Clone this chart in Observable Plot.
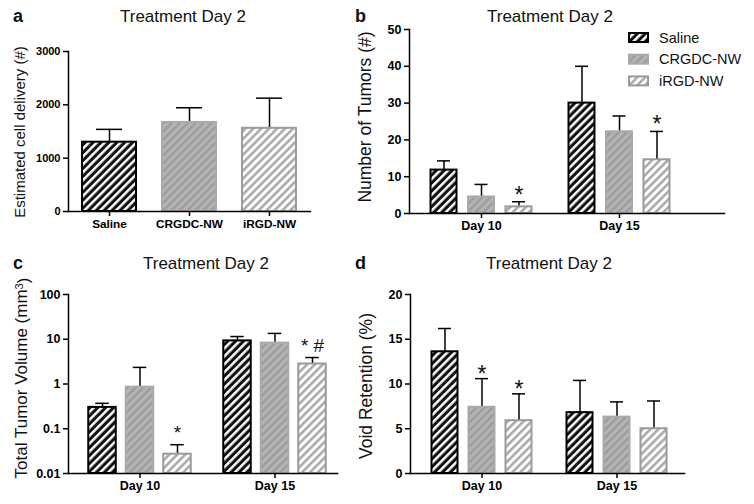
<!DOCTYPE html>
<html>
<head>
<meta charset="utf-8">
<script src="https://cdn.jsdelivr.net/npm/d3@7"></script>
<script src="https://cdn.jsdelivr.net/npm/@observablehq/plot@0.6"></script>
<style>
  html, body { margin: 0; padding: 0; background: #fff; }
  #chart { position: relative; width: 754px; height: 504px; overflow: hidden; background: #fff;
    font-family: "Liberation Sans", Arial, Helvetica, sans-serif; }
  #chart svg { position: absolute; }
</style>
</head>
<body>
<div id="chart"></div>
<script>
// ---------- data ----------
const series = ["Saline", "CRGDC-NW", "iRGD-NW"];
const days = ["Day 10", "Day 15"];

// panel a: estimated cell delivery (#)
const deliveryMean = [1300, 1670, 1560];
const deliveryErr  = [1540, 1945, 2125];

// panel b: number of tumors (#), order: Day 10 (Saline, CRGDC, iRGD), Day 15 (...)
const tumorsMean = [11.8, 4.5, 1.8, 30.0, 22.2, 14.6];
const tumorsErr  = [14.3, 7.9, 3.2, 40.0, 26.5, 22.3];
const tumorsSig  = ["", "", "*", "", "", "*"];

// panel c: total tumor volume (mm3), log scale
const volumeMean = [0.30, 0.85, 0.027, 9.2, 8.2, 2.8];
const volumeErr  = [0.37, 2.35, 0.044, 11.5, 13.5, 3.9];
const volumeSig  = ["", "", "*", "", "", "* #"];

// panel d: void retention (%)
const voidMean = [13.6, 7.4, 5.9, 6.8, 6.3, 5.0];
const voidErr  = [16.2, 10.6, 8.9, 10.4, 8.0, 8.1];
const voidSig  = ["", "*", "*", "", "", ""];

// tick values
const deliveryTicks = [0, 1000, 2000, 3000];
const tumorsTicks = [0, 10, 20, 30, 40, 50];
const volumeTicks = [0.01, 0.1, 1, 10, 100];
const voidTicks = [0, 5, 10, 15, 20];

// ---------- styles ----------
const FONT = "'Liberation Sans', Arial, Helvetica, sans-serif";
const patStyles = [
  {bg: "#111111", stripe: "#ffffff", stroke: "#000000"},
  {bg: "#b4b4b4", stripe: "#9c9c9c", stroke: "#aaaaaa"},
  {bg: "#ffffff", stripe: "#a8a8a8", stroke: "#9a9a9a"}
];

function addPatterns(svg, prefix) {
  const defs = d3.select(svg).insert("defs", ":first-child");
  const P = 5.6, W = 2.5;
  patStyles.forEach((p, k) => {
    const pat = defs.append("pattern")
      .attr("id", prefix + k)
      .attr("patternUnits", "userSpaceOnUse")
      .attr("width", P).attr("height", P)
      .attr("patternTransform", "rotate(45)");
    pat.append("rect").attr("width", P).attr("height", P).attr("fill", p.bg);
    pat.append("rect").attr("width", W).attr("height", P).attr("fill", p.stripe);
  });
}

function buildRows(groups, perGroupSeries, means, errs, sigs) {
  const rows = [];
  groups.forEach((g, gi) => {
    perGroupSeries.forEach((s, si) => {
      const i = gi * perGroupSeries.length + si;
      rows.push({group: g, series: s, mean: means[i], top: errs[i], sig: sigs ? sigs[i] : ""});
    });
  });
  return rows;
}

const chart = document.getElementById("chart");

function makePanel(cfg) {
  const {id, groups, data, seriesOf, yType, yDomain, yTicks, yFormat, left, top,
         margins, xRange, barW, capW, offsets, sigDy, sigFont, tickFont, xFont} = cfg;
  const bw = (xRange[1] - xRange[0]) / groups.length;
  const inset = (bw - barW) / 2, capInset = (bw - capW) / 2;
  const marks = [];
  seriesOf.forEach((k, j) => {
    const s = series[k];
    const dk = data.filter(d => d.series === s);
    const dx = offsets[j];
    marks.push(Plot.ruleX(dk, {x: "group", y1: "mean", y2: "top", dx, stroke: "black", strokeWidth: 1.5}));
    marks.push(Plot.tickY(dk, {x: "group", y: "top", dx, insetLeft: capInset, insetRight: capInset, stroke: "black", strokeWidth: 1.5}));
    marks.push(Plot.barY(dk, {x: "group", y1: yDomain[0], y2: "mean", dx, insetLeft: inset, insetRight: inset,
      fill: `url(#${id}-p${k})`, stroke: patStyles[k].stroke, strokeWidth: 2}));
    marks.push(Plot.text(dk.filter(d => d.sig), {x: "group", y: "top", text: "sig", dx, dy: sigDy,
      fontSize: sigFont, lineAnchor: "bottom", fill: "#111"}));
  });
  marks.push(
    Plot.axisY({ticks: yTicks, tickFormat: yFormat, tickSize: 5, tickPadding: 3, fontWeight: "bold",
      fontSize: tickFont, label: null, stroke: "black", strokeWidth: 1.5}),
    Plot.axisX({tickSize: 5, tickPadding: 3, fontWeight: "bold", fontSize: xFont, label: null,
      stroke: "black", strokeWidth: 1.5}),
    Plot.frame({anchor: "left", stroke: "black", strokeWidth: 1.5}),
    Plot.frame({anchor: "bottom", stroke: "black", strokeWidth: 1.5})
  );
  const svg = Plot.plot({
    width: 377, height: 252,
    marginLeft: margins[0], marginTop: margins[1], marginRight: margins[2], marginBottom: margins[3],
    x: {type: "band", domain: groups, range: xRange, padding: 0},
    y: {type: yType, domain: yDomain},
    style: {fontFamily: FONT, color: "black", background: "none", overflow: "visible"},
    marks
  });
  addPatterns(svg, id + "-p");
  svg.style.left = left + "px";
  svg.style.top = top + "px";
  chart.appendChild(svg);
}

// panel a
makePanel({
  id: "pa", groups: series, seriesOf: [0, 1, 2],
  data: buildRows(["x"], series, deliveryMean, deliveryErr).map(d => ({...d, group: d.series})),
  yType: "linear", yDomain: [0, 3000], yTicks: deliveryTicks, yFormat: d => String(d),
  left: 0, top: 0, margins: [68, 51, 67, 41], xRange: [69, 309], barW: 54, capW: 26,
  offsets: [0, 0, 0], sigDy: 0, sigFont: 23, tickFont: 11, xFont: 11.8
});

// panel b
makePanel({
  id: "pb", groups: days, seriesOf: [0, 1, 2],
  data: buildRows(days, series, tumorsMean, tumorsErr, tumorsSig),
  yType: "linear", yDomain: [0, 50], yTicks: tumorsTicks, yFormat: d => String(d),
  left: 377, top: 0, margins: [32, 29, 30, 39], xRange: [34.5, 310.5], barW: 26, capW: 13,
  offsets: [-37.5, 0, 37.5], sigDy: 1, sigFont: 23, tickFont: 12.5, xFont: 12.5
});

// panel c
makePanel({
  id: "pc", groups: days, seriesOf: [0, 1, 2],
  data: buildRows(days, series, volumeMean, volumeErr, volumeSig),
  yType: "log", yDomain: [0.01, 100], yTicks: volumeTicks, yFormat: d => String(d),
  left: 0, top: 252, margins: [68, 42, 40, 31], xRange: [71, 342], barW: 28, capW: 14,
  offsets: [-37.5, 0, 37.5], sigDy: -6, sigFont: 19, tickFont: 12.5, xFont: 12.5
});

// panel d
makePanel({
  id: "pd", groups: days, seriesOf: [0, 1, 2],
  data: buildRows(days, series, voidMean, voidErr, voidSig),
  yType: "linear", yDomain: [0, 20], yTicks: voidTicks, yFormat: d => String(d),
  left: 377, top: 252, margins: [33, 42, 70, 31], xRange: [36.5, 306.5], barW: 26, capW: 13,
  offsets: [-37, 0, 37], sigDy: 3, sigFont: 23, tickFont: 12.5, xFont: 12.5
});

// ---------- text overlay: titles, panel letters, axis labels, legend ----------
const over = d3.select(chart).append("svg")
  .attr("width", 754).attr("height", 504)
  .style("left", "0px").style("top", "0px")
  .style("font-family", FONT);

const titles = [
  {t: "Treatment Day 2", x: 183, y: 22},
  {t: "Treatment Day 2", x: 550, y: 22},
  {t: "Treatment Day 2", x: 206, y: 269},
  {t: "Treatment Day 2", x: 549, y: 269}
];
titles.forEach(d => over.append("text").attr("x", d.x).attr("y", d.y)
  .attr("text-anchor", "middle").attr("font-size", 17).attr("fill", "#111").text(d.t));

const letters = [
  {t: "a", x: 13, y: 22}, {t: "b", x: 355, y: 22},
  {t: "c", x: 13, y: 269}, {t: "d", x: 355, y: 269}
];
letters.forEach(d => over.append("text").attr("x", d.x).attr("y", d.y)
  .attr("font-size", 18).attr("font-weight", "bold").attr("fill", "#111").text(d.t));

const ylabels = [
  {t: "Estimated cell delivery (#)", x: 20, y: 132, fs: 15},
  {t: "Number of Tumors (#)", x: 365, y: 117, fs: 17.5},
  {t: "Total Tumor Volume (mm", sup: "3", end: ")", x: 21, y: 378, fs: 17},
  {t: "Void Retention (%)", x: 366, y: 386, fs: 17.5}
];
ylabels.forEach(d => {
  const txt = over.append("text")
    .attr("transform", `translate(${d.x},${d.y}) rotate(-90)`)
    .attr("text-anchor", "middle").attr("dy", "0.35em")
    .attr("font-size", d.fs).attr("fill", "#111");
  txt.append("tspan").text(d.t);
  if (d.sup) {
    txt.append("tspan").attr("dy", "-0.4em").attr("font-size", d.fs * 0.65).text(d.sup);
    txt.append("tspan").attr("dy", "0.4em").text(d.end);
  }
});

// legend (panel b)
addPatterns(over.node(), "lg-p");
series.forEach((s, k) => {
  const cy = 37.5 + k * 21.7;
  over.append("rect").attr("x", 629).attr("y", cy - 4.5).attr("width", 19).attr("height", 9)
    .attr("fill", `url(#lg-p${k})`).attr("stroke", patStyles[k].stroke).attr("stroke-width", 2);
  over.append("text").attr("x", 659).attr("y", cy).attr("dy", "0.36em")
    .attr("font-size", 14.5).attr("fill", "#111").text(s);
});
</script>
</body>
</html>
